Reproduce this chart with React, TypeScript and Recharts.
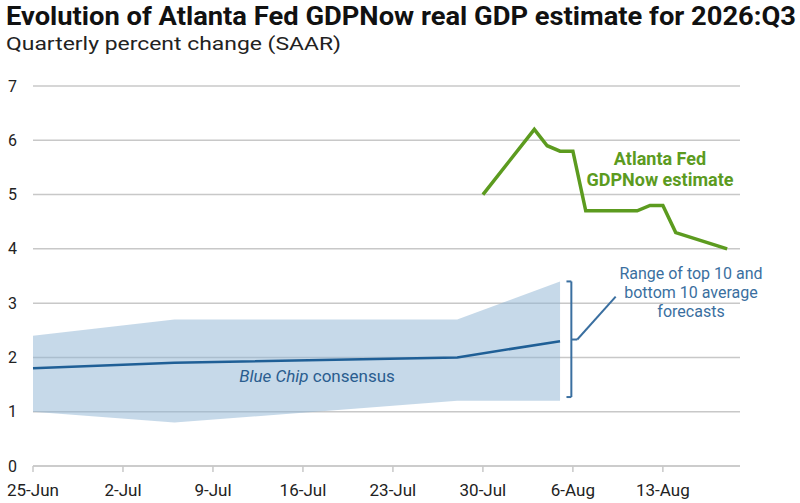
import { ComposedChart, Area, Line, XAxis, YAxis, CartesianGrid, ReferenceLine } from "recharts";

// days counted from 25-Jun
const bandDays = [0, 11, 33, 41];
const bandLow = [1.0, 0.8, 1.2, 1.2];
const bandHigh = [2.4, 2.7, 2.7, 3.4];
const consensus = [1.8, 1.9, 2.0, 2.3];

const nowDays = [35, 39, 40, 41, 42, 43, 47, 48, 49, 50, 54];
const nowValues = [5.0, 6.2, 5.9, 5.8, 5.8, 4.7, 4.7, 4.8, 4.8, 4.3, 4.0];

const tickDays = [0, 7, 14, 21, 28, 35, 42, 49];
const tickLabels = ["25-Jun", "2-Jul", "9-Jul", "16-Jul", "23-Jul", "30-Jul", "6-Aug", "13-Aug"];
const yTicks = [0, 1, 2, 3, 4, 5, 6, 7];

// bracket for the range annotation (data coordinates)
const bracketX = 41.88;
const bracketCapX = 41.5;
const bracketTop = 3.4;
const bracketBottom = 1.27;
const bracketMid = 2.33;
const leaderEnd = { x: 45.33, y: 3.12 };

type Row = { day: number; band?: [number, number]; consensus?: number; now?: number };

const rowMap = new Map<number, Row>();
const rowFor = (day: number) => {
  if (!rowMap.has(day)) rowMap.set(day, { day });
  return rowMap.get(day)!;
};
bandDays.forEach((d, i) => {
  const r = rowFor(d);
  r.band = [bandLow[i], bandHigh[i]];
  r.consensus = consensus[i];
});
nowDays.forEach((d, i) => {
  rowFor(d).now = nowValues[i];
});
const data = [...rowMap.values()].sort((a, b) => a.day - b.day);

const BLUE = "#1f5f96";
const BRACKET = "#3a6fa0";
const GREEN = "#5c9b1f";
const GRID = "#c8c8c8";

function YTick({ y, payload }: any) {
  return (
    <text x={12.5} y={y} textAnchor="middle" dominantBaseline="central" fontSize={16} fill="#222">
      {payload.value}
    </text>
  );
}

export default function App() {
  const font = "Roboto, 'Noto Sans', sans-serif";
  return (
    <div style={{ position: "absolute", left: 0, top: 0, width: 800, height: 503, background: "#fff", fontFamily: font }}>
      <ComposedChart
        width={800}
        height={503}
        data={data}
        margin={{ top: 86, right: 60, left: 0, bottom: 0 }}
      >
        <CartesianGrid vertical={false} stroke={GRID} strokeWidth={1.5} />
        <XAxis
          type="number"
          dataKey="day"
          domain={[0, 55]}
          ticks={tickDays}
          tickFormatter={(v) => tickLabels[tickDays.indexOf(v)] ?? ""}
          height={37}
          stroke={GRID}
          strokeWidth={1.5}
          tickSize={6}
          tickMargin={12}
          tick={{ fontSize: 17, fill: "#222", fontFamily: font }}
          interval={0}
        />
        <YAxis
          domain={[0, 7]}
          ticks={yTicks}
          width={33}
          axisLine={false}
          tickLine={false}
          tick={<YTick />}
          interval={0}
        />
        <Area
          dataKey="band"
          fill="#8db4d4"
          fillOpacity={0.5}
          stroke="none"
          connectNulls
          isAnimationActive={false}
        />
        <Line
          dataKey="consensus"
          stroke={BLUE}
          strokeWidth={2.5}
          dot={false}
          connectNulls
          isAnimationActive={false}
        />
        <Line
          dataKey="now"
          stroke={GREEN}
          strokeWidth={3.5}
          dot={false}
          connectNulls
          isAnimationActive={false}
        />
        <ReferenceLine
          segment={[{ x: bracketX, y: bracketTop }, { x: bracketX, y: bracketBottom }]}
          stroke={BRACKET}
          strokeWidth={2}
        />
        <ReferenceLine
          segment={[{ x: bracketCapX, y: bracketTop }, { x: bracketX, y: bracketTop }]}
          stroke={BRACKET}
          strokeWidth={2}
        />
        <ReferenceLine
          segment={[{ x: bracketCapX, y: bracketBottom }, { x: bracketX, y: bracketBottom }]}
          stroke={BRACKET}
          strokeWidth={2}
        />
        <ReferenceLine
          segment={[{ x: bracketX, y: bracketMid }, { x: 42.34, y: bracketMid }]}
          stroke={BRACKET}
          strokeWidth={2}
        />
        <ReferenceLine
          segment={[{ x: 42.34, y: bracketMid }, leaderEnd]}
          stroke={BRACKET}
          strokeWidth={2}
        />
      </ComposedChart>

      <svg
        width={800}
        height={503}
        style={{ position: "absolute", left: 0, top: 0, pointerEvents: "none" }}
        fontFamily={font}
      >
        <text x={6} y={25} fontSize={25} fontWeight={700} fill="#111" textLength={790} lengthAdjust="spacingAndGlyphs">
          Evolution of Atlanta Fed GDPNow real GDP estimate for 2026:Q3
        </text>
        <text x={6} y={50} fontSize={18} fill="#222" textLength={335} lengthAdjust="spacingAndGlyphs">
          Quarterly percent change (SAAR)
        </text>

        <g fill={GREEN} fontWeight={700} fontSize={18} textAnchor="middle">
          <text x={660} y={165}>Atlanta Fed</text>
          <text x={660} y={186}>GDPNow estimate</text>
        </g>

        <g fill={BRACKET} fontSize={16} textAnchor="middle">
          <text x={691} y={279}>Range of top 10 and</text>
          <text x={691} y={298}>bottom 10 average</text>
          <text x={691} y={317}>forecasts</text>
        </g>

        <text x={317} y={382} fontSize={17} fill="#2a5d8f" textAnchor="middle">
          <tspan fontStyle="italic">Blue Chip</tspan> consensus
        </text>
      </svg>
    </div>
  );
}
